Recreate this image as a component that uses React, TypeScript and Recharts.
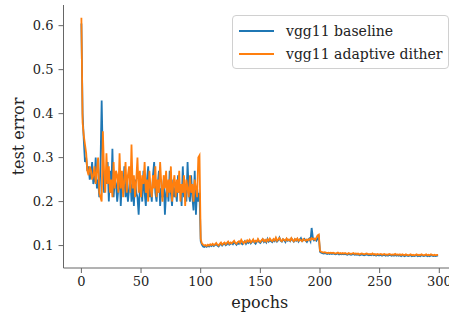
import { LineChart, Line, XAxis, YAxis } from 'recharts';

const FONT = '"DejaVu Serif", "Liberation Serif", serif';

const xTicks = [0, 50, 100, 150, 200, 250, 300];
const yTicks = [0.1, 0.2, 0.3, 0.4, 0.5, 0.6];

// test error per epoch, vgg11 baseline
const baseline = [
  0.605, 0.40, 0.34, 0.29, 0.30, 0.27, 0.28, 0.25, 0.26, 0.29,
  0.24, 0.25, 0.30, 0.23, 0.25, 0.21, 0.28, 0.43, 0.29, 0.22,
  0.26, 0.24, 0.29, 0.20, 0.27, 0.22, 0.32, 0.21, 0.25, 0.24,
  0.20, 0.23, 0.27, 0.19, 0.25, 0.22, 0.28, 0.21, 0.24, 0.20,
  0.23, 0.26, 0.20, 0.24, 0.19, 0.25, 0.22, 0.21, 0.17, 0.23,
  0.24, 0.20, 0.27, 0.22, 0.19, 0.25, 0.28, 0.21, 0.23, 0.20,
  0.26, 0.29, 0.22, 0.20, 0.24, 0.27, 0.19, 0.23, 0.21, 0.25,
  0.17, 0.22, 0.24, 0.20, 0.27, 0.22, 0.19, 0.25, 0.21, 0.23,
  0.20, 0.26, 0.22, 0.24, 0.19, 0.28, 0.21, 0.23, 0.20, 0.29,
  0.22, 0.20, 0.26, 0.21, 0.18, 0.27, 0.17, 0.23, 0.20, 0.22,
  0.110, 0.102, 0.098, 0.097, 0.099, 0.097, 0.100, 0.098, 0.101, 0.099,
  0.102, 0.099, 0.101, 0.103, 0.100, 0.098, 0.102, 0.104, 0.100, 0.103,
  0.105, 0.101, 0.103, 0.107, 0.102, 0.104, 0.106, 0.103, 0.108, 0.105,
  0.102, 0.106, 0.104, 0.109, 0.105, 0.103, 0.107, 0.110, 0.104, 0.108,
  0.106, 0.111, 0.105, 0.108, 0.112, 0.107, 0.104, 0.109, 0.113, 0.108,
  0.106, 0.110, 0.114, 0.108, 0.111, 0.107, 0.115, 0.109, 0.112, 0.110,
  0.108, 0.113, 0.110, 0.116, 0.109, 0.112, 0.118, 0.111, 0.109, 0.114,
  0.112, 0.108, 0.115, 0.111, 0.113, 0.110, 0.116, 0.112, 0.109, 0.114,
  0.111, 0.115, 0.109, 0.113, 0.117, 0.110, 0.112, 0.115, 0.111, 0.108,
  0.113, 0.116, 0.110, 0.140, 0.118, 0.112, 0.114, 0.111, 0.116, 0.120,
  0.086, 0.084, 0.083, 0.082, 0.083, 0.082, 0.081, 0.082, 0.081, 0.082,
  0.081, 0.082, 0.081, 0.080, 0.081, 0.082, 0.080, 0.081, 0.080, 0.081,
  0.080, 0.081, 0.080, 0.079, 0.081, 0.080, 0.079, 0.080, 0.081, 0.079,
  0.080, 0.079, 0.080, 0.078, 0.079, 0.080, 0.079, 0.078, 0.079, 0.080,
  0.079, 0.078, 0.079, 0.078, 0.080, 0.078, 0.079, 0.077, 0.079, 0.078,
  0.078, 0.079, 0.077, 0.078, 0.079, 0.077, 0.078, 0.077, 0.079, 0.078,
  0.077, 0.078, 0.077, 0.079, 0.077, 0.078, 0.077, 0.078, 0.076, 0.078,
  0.077, 0.076, 0.078, 0.077, 0.076, 0.077, 0.078, 0.076, 0.077, 0.076,
  0.077, 0.078, 0.076, 0.077, 0.076, 0.078, 0.077, 0.076, 0.077, 0.078,
  0.076, 0.077, 0.076, 0.078, 0.077, 0.076, 0.077, 0.076, 0.077, 0.077,
];

// test error per epoch, vgg11 adaptive dither
const dither = [
  0.618, 0.38, 0.35, 0.33, 0.31, 0.27, 0.26, 0.28, 0.27, 0.25,
  0.26, 0.28, 0.24, 0.27, 0.30, 0.22, 0.21, 0.20, 0.36, 0.27,
  0.22, 0.31, 0.24, 0.28, 0.22, 0.25, 0.21, 0.29, 0.23, 0.27,
  0.26, 0.22, 0.31, 0.23, 0.27, 0.21, 0.25, 0.29, 0.22, 0.26,
  0.28, 0.22, 0.33, 0.23, 0.26, 0.21, 0.25, 0.30, 0.22, 0.27,
  0.21, 0.26, 0.24, 0.29, 0.22, 0.25, 0.20, 0.27, 0.23, 0.21,
  0.26, 0.23, 0.28, 0.21, 0.25, 0.22, 0.29, 0.24, 0.20, 0.26,
  0.23, 0.27, 0.21, 0.25, 0.22, 0.28, 0.20, 0.24, 0.26, 0.21,
  0.25, 0.22, 0.27, 0.20, 0.24, 0.22, 0.26, 0.19, 0.25, 0.23,
  0.21, 0.26, 0.22, 0.24, 0.20, 0.25, 0.23, 0.21, 0.30, 0.305,
  0.115, 0.105, 0.102, 0.100, 0.101, 0.099, 0.102, 0.100, 0.103, 0.101,
  0.104, 0.101, 0.103, 0.106, 0.102, 0.100, 0.104, 0.107, 0.102, 0.105,
  0.107, 0.103, 0.106, 0.109, 0.104, 0.107, 0.105, 0.108, 0.111, 0.106,
  0.104, 0.108, 0.110, 0.106, 0.113, 0.108, 0.105, 0.110, 0.107, 0.112,
  0.109, 0.113, 0.107, 0.110, 0.114, 0.108, 0.111, 0.109, 0.115, 0.110,
  0.108, 0.112, 0.115, 0.110, 0.113, 0.109, 0.114, 0.111, 0.116, 0.112,
  0.110, 0.115, 0.112, 0.118, 0.111, 0.114, 0.117, 0.112, 0.110, 0.115,
  0.113, 0.111, 0.116, 0.112, 0.114, 0.111, 0.117, 0.113, 0.110, 0.115,
  0.112, 0.116, 0.111, 0.114, 0.112, 0.110, 0.115, 0.113, 0.111, 0.114,
  0.112, 0.115, 0.113, 0.117, 0.114, 0.116, 0.113, 0.118, 0.123, 0.125,
  0.088, 0.086, 0.085, 0.084, 0.085, 0.084, 0.083, 0.084, 0.083, 0.084,
  0.083, 0.084, 0.083, 0.082, 0.083, 0.084, 0.082, 0.083, 0.082, 0.083,
  0.082, 0.083, 0.082, 0.081, 0.083, 0.082, 0.081, 0.082, 0.083, 0.081,
  0.082, 0.081, 0.082, 0.080, 0.081, 0.082, 0.081, 0.080, 0.081, 0.082,
  0.081, 0.080, 0.081, 0.080, 0.082, 0.080, 0.081, 0.079, 0.081, 0.080,
  0.080, 0.081, 0.079, 0.080, 0.081, 0.079, 0.080, 0.079, 0.081, 0.080,
  0.079, 0.080, 0.079, 0.081, 0.079, 0.080, 0.079, 0.080, 0.078, 0.080,
  0.079, 0.078, 0.080, 0.079, 0.078, 0.079, 0.080, 0.078, 0.079, 0.078,
  0.079, 0.080, 0.078, 0.079, 0.078, 0.080, 0.079, 0.078, 0.079, 0.080,
  0.078, 0.079, 0.078, 0.080, 0.079, 0.078, 0.079, 0.078, 0.079, 0.079,
];

const series = [
  { key: 'baseline', name: 'vgg11 baseline', color: '#1f77b4' },
  { key: 'dither', name: 'vgg11 adaptive dither', color: '#ff7f0e' },
];

const data = baseline.map((v, i) => ({ epoch: i, baseline: v, dither: dither[i] }));

const axisColor = '#666';
const textColor = '#222';

function LegendBox() {
  return (
    <div
      style={{
        position: 'absolute',
        left: 232,
        top: 15,
        border: '1px solid #d0d0d0',
        borderRadius: 4,
        background: 'rgba(255,255,255,0.8)',
        padding: '3px 0 3px 6px',
        width: 217,
        boxSizing: 'border-box',
        fontFamily: FONT,
        fontSize: 14,
        color: textColor,
      }}
    >
      {series.map((s) => (
        <div key={s.key} style={{ display: 'flex', alignItems: 'center', height: 23 }}>
          <span style={{ display: 'inline-block', width: 35, height: 2, background: s.color, marginRight: 12 }} />
          <span>{s.name}</span>
        </div>
      ))}
    </div>
  );
}

function XLabel(props: any) {
  const { viewBox } = props;
  return (
    <text x={viewBox.x + viewBox.width / 2} y={308} textAnchor="middle" fontFamily={FONT} fontSize={16} fill={textColor}>
      epochs
    </text>
  );
}

function YLabel(props: any) {
  const { viewBox } = props;
  const cy = viewBox.y + viewBox.height / 2;
  return (
    <text
      x={18}
      y={cy}
      transform={`rotate(-90 18 ${cy})`}
      textAnchor="middle"
      dominantBaseline="central"
      fontFamily={FONT}
      fontSize={16}
      fill={textColor}
    >
      test error
    </text>
  );
}

export default function App() {
  return (
    <div style={{ position: 'fixed', left: 0, top: 0, width: 449, height: 314, overflow: 'hidden', background: '#fff' }}>
      <LineChart width={457} height={314} data={data} margin={{ top: 5, right: 1, bottom: 0, left: 0 }}>
        <XAxis
          dataKey="epoch"
          type="number"
          domain={[-15, 314]}
          ticks={xTicks}
          allowDataOverflow
          height={46}
          tickSize={5}
          tickMargin={4}
          stroke={axisColor}
          tick={{ fontFamily: FONT, fontSize: 13, fill: textColor }}
          label={<XLabel />}
        />
        <YAxis
          type="number"
          domain={[0.049, 0.647]}
          ticks={yTicks}
          allowDataOverflow
          width={63.5}
          tickSize={5}
          tickMargin={5}
          stroke={axisColor}
          tickFormatter={(v: number) => v.toFixed(1)}
          tick={{ fontFamily: FONT, fontSize: 13, fill: textColor }}
          label={<YLabel />}
        />
        {series.map((s) => (
          <Line
            key={s.key}
            type="linear"
            dataKey={s.key}
            name={s.name}
            stroke={s.color}
            strokeWidth={1.8}
            dot={false}
            activeDot={false}
            isAnimationActive={false}
          />
        ))}
      </LineChart>
      <LegendBox />
    </div>
  );
}
